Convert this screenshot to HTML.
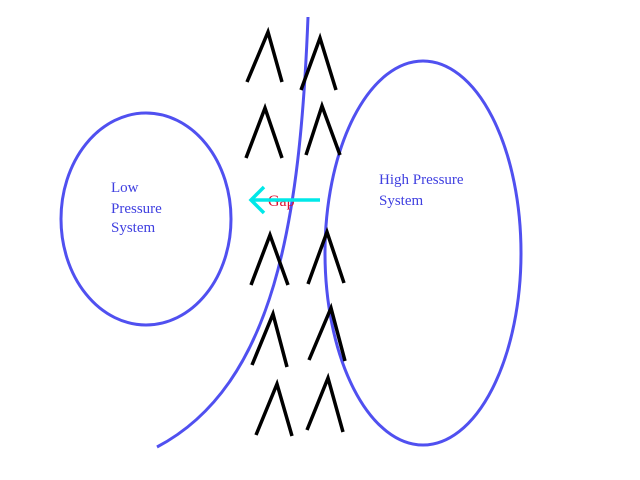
<!DOCTYPE html>
<html><head><style>body{margin:0;background:#fff}svg{display:block}</style></head><body>
<svg width="640" height="480" viewBox="0 0 640 480" xmlns="http://www.w3.org/2000/svg">
<g fill="none" stroke="#5050f0" stroke-width="3">
<ellipse cx="146" cy="219" rx="85" ry="106"/>
<ellipse cx="423" cy="253" rx="98" ry="192"/>
<path d="M308,17 C300,220 275,385 157,447"/>
</g>
<g fill="none" stroke="#000" stroke-width="3.5">
<polyline points="247,82 268,32 282,82"/>
<polyline points="301,90 320,38 336,90"/>
<polyline points="246,158 265,108 282,158"/>
<polyline points="306,155 322,106 340,155"/>
<polyline points="251,285 270,235 288,285"/>
<polyline points="308,284 327,232 344,283"/>
<polyline points="252,365 273,314 287,367"/>
<polyline points="309,360 331,308 345,361"/>
<polyline points="256,435 277,384 292,436"/>
<polyline points="307,430 328,378 343,432"/>
</g>
<g font-family="Liberation Serif, serif" font-size="15" fill="#4040e0">
<text x="111" y="192">Low</text>
<text x="111" y="213">Pressure</text>
<text x="111" y="232">System</text>
<text x="379" y="184">High Pressure</text>
<text x="379" y="205">System</text>
</g>
<text x="268" y="206" font-family="Liberation Serif, serif" font-size="16" fill="#e01030">Gap</text>
<g stroke="#00e8e8" stroke-width="3.5" fill="none">
<line x1="320" y1="200" x2="251" y2="200"/>
<polyline points="264,187 251,200 264,213"/>
</g>
</svg>
</body></html>
